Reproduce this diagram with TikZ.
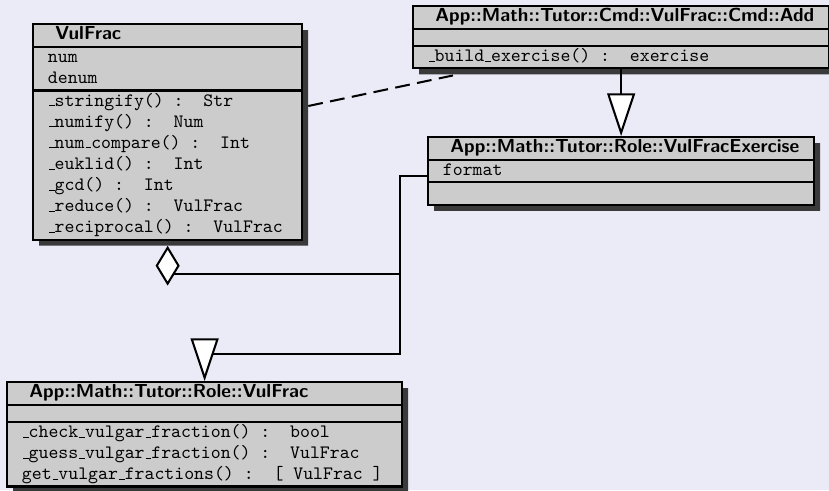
\documentclass[tikz,border=0pt]{standalone}
\usepackage{tikz}
\usetikzlibrary{positioning, arrows.meta, calc, shapes.multipart, shadows}
\definecolor{slide_lavender}{RGB}{235,235,247}
\definecolor{class_gray}{RGB}{204,204,204}
\definecolor{shadow_gray}{RGB}{58,58,58}
\newcommand{\us}{\kern.06em\vbox{\hrule height.5pt width.3em}}
\newcommand{\umlrow}{\rule[-3.1pt]{0pt}{11pt}}
\newcommand{\classname}[1]{\umlrow\hspace*{4pt}\textsf{\bfseries #1}}
\newcommand{\nofield}{\rule{0pt}{8pt}}
\tikzstyle{umlclass} = [rectangle split, rectangle split parts=3, rectangle split part align={left}, anchor=north west, draw=black, line width=1.2pt, fill=class_gray, drop shadow={shadow xshift=3.2pt, shadow yshift=-3.2pt, fill=shadow_gray, opacity=1}, inner xsep=8pt, inner ysep=0pt, align=left, font=\fontsize{10.2}{11.4}\selectfont\ttfamily]
\tikzstyle{inherit} = [line width=1.1pt, -{Triangle[length=23pt, width=15pt, fill=white]}]
\tikzstyle{aggreg} = [line width=1.1pt, -{Diamond[length=21.5pt, width=13pt, fill=white]}]
\tikzstyle{depend} = [line width=1.1pt, dash pattern=on 8pt off 4pt]

\begin{document}
\begin{tikzpicture}[x=0.54pt, y=-0.54pt]
        \fill[slide_lavender] (0,0) rectangle (829,490);
        \useasboundingbox (0,0) rectangle (829,490);
        \node (vulfrac) [umlclass, minimum width=145.3pt] at (32,23) {\classname{VulFrac}
            \nodepart{two} \umlrow num\\\umlrow denum
            \nodepart{three} \umlrow\us stringify() :\ \ Str\\\umlrow\us numify() :\ \ Num\\\umlrow\us num\us compare() :\ \ Int\\\umlrow\us euklid() :\ \ Int\\\umlrow\us gcd() :\ \ Int\\\umlrow\us reduce() :\ \ VulFrac\\\umlrow\us reciprocal() :\ \ VulFrac};
        \node (add) [umlclass, minimum width=216.5pt] at (412,5) {\classname{App::Math::Tutor::Cmd::VulFrac::Cmd::Add}
            \nodepart{two} \nofield
            \nodepart{three} \umlrow\us build\us exercise() :\ \ exercise};
        \node (ex) [umlclass, minimum width=207.9pt] at (427,136) {\classname{App::Math::Tutor::Role::VulFracExercise}
            \nodepart{two} \umlrow format
            \nodepart{three} \umlrow};
        \node (role) [umlclass, minimum width=213.3pt] at (6,381) {\classname{App::Math::Tutor::Role::VulFrac}
            \nodepart{two} \nofield
            \nodepart{three} \umlrow\us check\us vulgar\us fraction() :\ \ bool\\\umlrow\us guess\us vulgar\us fraction() :\ \ VulFrac\\\umlrow get\us vulgar\us fractions() :\ \ [ VulFrac ]};
        \draw [depend] ($(vulfrac.north east)+(5,83)$) -- ($(add.south west)+(41,6)$);
        \draw [inherit] (add.south -| ex.north) -- (ex.north);
        \draw [aggreg] ($(ex.west)+(0,5)$) -- ++(-27,0) coordinate (turn) |- ($(vulfrac.south)+(0,33)$) -- ($(vulfrac.south)+(0,5)$);
        \draw [inherit] (turn) |- ($(role.north)+(0,-27)$) -- (role.north);
    \end{tikzpicture}
\end{document}
